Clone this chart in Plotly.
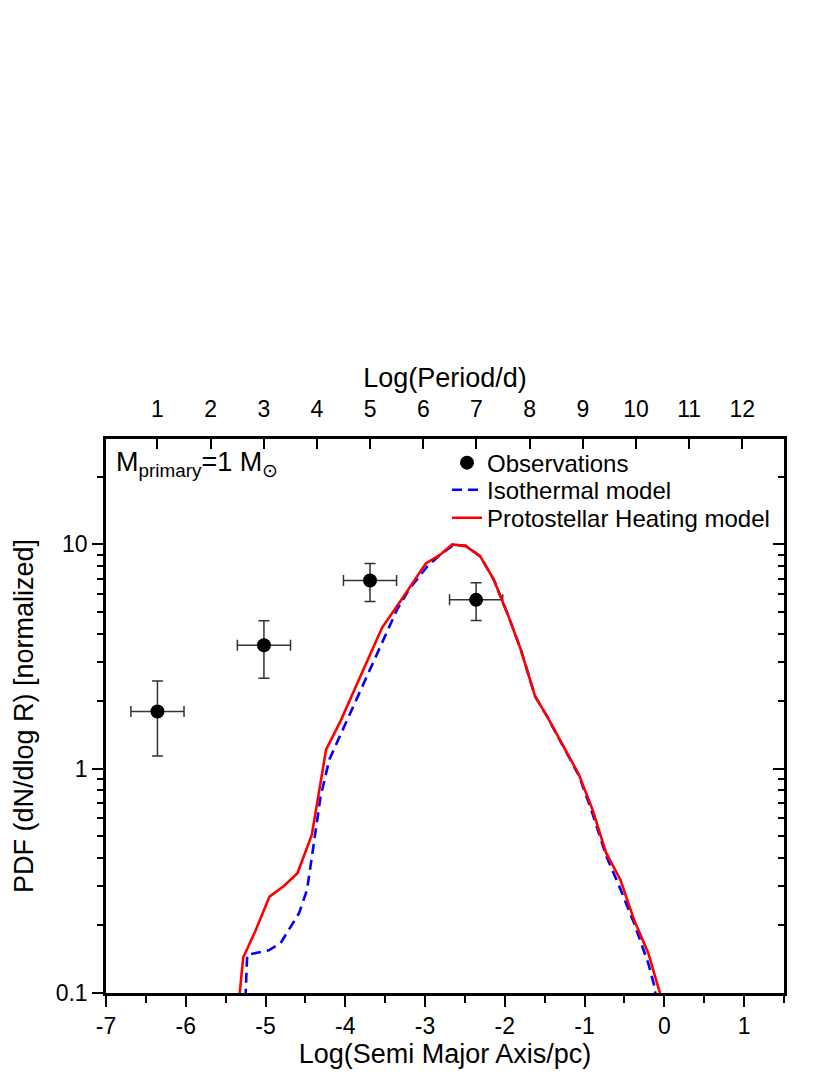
import plotly.graph_objects as go

# Observations (Log semi-major axis [pc], PDF)
obs_x = [-6.355, -5.02, -3.69, -2.36]
obs_y = [1.80, 3.55, 6.9, 5.66]
obs_xerr = [0.333, 0.333, 0.333, 0.333]
obs_yerr = [0.66, 1.02, 1.33, 1.08]

# Isothermal model
iso_x = [-5.26, -5.23, -4.96, -4.81, -4.58, -4.48, -4.40, -4.31, -4.20, -3.47,
         -3.35, -3.20, -2.97, -2.81, -2.64, -2.49, -2.31, -2.14, -1.97, -1.80,
         -1.62, -1.47, -1.26, -1.07, -0.90, -0.73, -0.55, -0.38, -0.20, -0.13, -0.08]
iso_y = [0.08, 0.148, 0.155, 0.167, 0.227, 0.288, 0.45, 0.75, 1.10, 4.17,
         5.13, 6.3, 8.0, 9.0, 9.95, 9.85, 8.87, 6.98, 4.95, 3.40,
         2.10, 1.71, 1.24, 0.93, 0.63, 0.41, 0.29, 0.205, 0.135, 0.109, 0.085]

# Protostellar heating model
ph_x = [-5.35, -5.28, -5.13, -4.95, -4.77, -4.60, -4.42, -4.24, -4.06, -3.54,
        -3.31, -2.99, -2.81, -2.66, -2.49, -2.31, -2.14, -1.97, -1.80, -1.62,
        -1.47, -1.26, -1.07, -0.90, -0.73, -0.55, -0.38, -0.20, -0.01]
ph_y = [0.08, 0.144, 0.188, 0.269, 0.300, 0.342, 0.507, 1.22, 1.63, 4.25,
        5.58, 8.23, 9.0, 10.0, 9.83, 8.87, 6.98, 4.95, 3.40, 2.10,
        1.71, 1.24, 0.94, 0.656, 0.421, 0.319, 0.212, 0.150, 0.088]

# Axes
x_range = [-7, 1.5]
x_ticks = [-7, -6, -5, -4, -3, -2, -1, 0, 1]
x_minor = [-6.5, -5.5, -4.5, -3.5, -2.5, -1.5, -0.5, 0.5, 1.5]
period_range = [0.033, 12.783]
period_ticks = [1, 2, 3, 4, 5, 6, 7, 8, 9, 10, 11, 12]
y_range_log = [-1, 1.47]
y_ticks = [0.1, 1, 10]
y_ticktext = ["0.1", "1", "10"]
y_minor = [0.2, 0.3, 0.4, 0.5, 0.6, 0.7, 0.8, 0.9, 2, 3, 4, 5, 6, 7, 8, 9, 20]

FONT = "Liberation Sans, Arial, sans-serif"

fig = go.Figure()

fig.add_trace(go.Scatter(
    x=obs_x, y=obs_y, mode="markers", name="Observations", legend="legend",
    marker=dict(symbol="circle", size=14, color="black"),
    error_x=dict(type="data", array=obs_xerr, color="#333333", thickness=1.5, width=5.5),
    error_y=dict(type="data", array=obs_yerr, color="#333333", thickness=1.5, width=5.5),
))
fig.add_trace(go.Scatter(
    x=iso_x, y=iso_y, mode="lines", name="Isothermal model", legend="legend2",
    line=dict(color="#0000ff", width=2.6, dash="10px,6px"),
))
fig.add_trace(go.Scatter(
    x=ph_x, y=ph_y, mode="lines", name="Protostellar Heating model", legend="legend3",
    line=dict(color="#ff0000", width=2.6),
))
# helper trace to anchor the top and right axes
fig.add_trace(go.Scatter(
    x=[period_range[0]], y=[1], xaxis="x2", yaxis="y2", mode="markers",
    marker=dict(size=1, opacity=0), showlegend=False, hoverinfo="skip",
))

legend_common = dict(
    x=0.503, xanchor="left", yanchor="middle",
    bgcolor="rgba(0,0,0,0)", borderwidth=0,
    font=dict(family=FONT, size=24, color="black"),
    itemwidth=30,
)

fig.update_layout(
    width=822, height=1067,
    margin=dict(l=98, r=46, t=431, b=82),
    paper_bgcolor="white", plot_bgcolor="white",
    font=dict(family=FONT, color="black", size=23),
    showlegend=True,
    legend=dict(y=0.9566, **legend_common),
    legend2=dict(y=0.9078, **legend_common),
    legend3=dict(y=0.8571, **legend_common),
    xaxis=dict(
        range=x_range, showgrid=False, zeroline=False,
        showline=True, linecolor="black", linewidth=2.5,
        ticks="outside", ticklen=11, tickwidth=2, tickcolor="black",
        tickmode="array", tickvals=x_ticks,
        ticktext=[str(v) for v in x_ticks],
        tickfont=dict(family=FONT, size=23),
        minor=dict(tickmode="array", tickvals=x_minor, ticks="outside",
                   ticklen=7, tickwidth=2, tickcolor="black"),
        title=dict(text="Log(Semi Major Axis/pc)", font=dict(family=FONT, size=27),
                   standoff=3),
    ),
    xaxis2=dict(
        overlaying="x", side="top", range=period_range,
        showgrid=False, zeroline=False,
        showline=True, linecolor="black", linewidth=2.5,
        ticks="inside", ticklen=10, tickwidth=2, tickcolor="black",
        tickmode="array", tickvals=period_ticks,
        ticktext=[str(v) for v in period_ticks],
        tickfont=dict(family=FONT, size=23),
        ticklabelstandoff=10,
        title=dict(text="Log(Period/d)", font=dict(family=FONT, size=27),
                   standoff=1),
    ),
    yaxis=dict(
        type="log", range=y_range_log, showgrid=False, zeroline=False,
        showline=True, linecolor="black", linewidth=2.5,
        ticks="outside", ticklen=11, tickwidth=2, tickcolor="black",
        tickmode="array", tickvals=y_ticks, ticktext=y_ticktext,
        tickfont=dict(family=FONT, size=23),
        minor=dict(tickmode="array", tickvals=y_minor, ticks="outside",
                   ticklen=6, tickwidth=2, tickcolor="black"),
        title=dict(text="PDF (dN/dlog R) [normalized]", font=dict(family=FONT, size=27),
                   standoff=15),
    ),
    yaxis2=dict(
        type="log", range=y_range_log, overlaying="y", side="right",
        showgrid=False, zeroline=False,
        showline=True, linecolor="black", linewidth=2.5,
        ticks="inside", ticklen=11, tickwidth=2, tickcolor="black",
        tickmode="array", tickvals=y_ticks, showticklabels=False,
        minor=dict(tickmode="array", tickvals=y_minor, ticks="inside",
                   ticklen=6, tickwidth=2, tickcolor="black"),
    ),
    annotations=[dict(
        text="M<sub>primary</sub>=1 M<sub>\u2299</sub>",
        xref="paper", yref="paper", x=0.012, y=0.99,
        xanchor="left", yanchor="top", showarrow=False,
        font=dict(family=FONT, size=27, color="black"),
    )],
)

fig.write_html("out.html")
